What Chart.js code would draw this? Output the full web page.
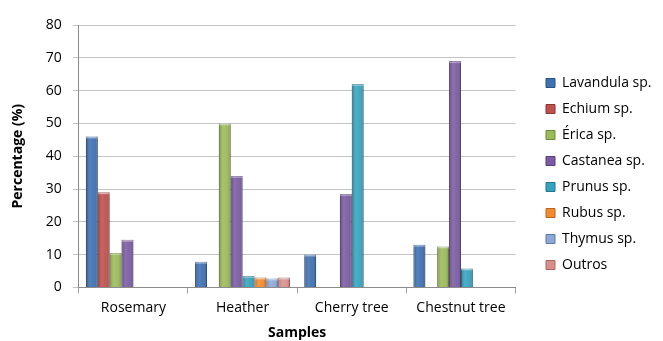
<!DOCTYPE html>
<html>
<head>
<meta charset="utf-8">
<script src="https://cdn.jsdelivr.net/npm/chart.js@4/dist/chart.umd.min.js"></script>
<style>
html,body{margin:0;padding:0;background:#fff;}
#wrap{width:663px;height:341px;position:relative;}
</style>
</head>
<body>
<div id="wrap"><canvas id="c" width="663" height="341"></canvas></div>
<script>
const categories = ["Rosemary", "Heather", "Cherry tree", "Chestnut tree"];
const seriesNames = ["Lavandula sp.", "Echium sp.", "Érica sp.", "Castanea sp.", "Prunus sp.", "Rubus sp.", "Thymus sp.", "Outros"];
const lavandula = [46, 7.8, 10, 13];
const echium    = [29, 0, 0, 0];
const erica     = [10.5, 50, 0, 12.5];
const castanea  = [14.5, 34, 28.5, 69];
const prunus    = [0, 3.5, 62, 5.8];
const rubus     = [0, 3, 0, 0];
const thymus    = [0, 2.7, 0, 0];
const outros    = [0, 3, 0, 0];
const yTicks = [0, 10, 20, 30, 40, 50, 60, 70, 80];

const seriesValues = [lavandula, echium, erica, castanea, prunus, rubus, thymus, outros];
const fills   = ["#3E70B3", "#C0504D", "#9BBB59", "#7B5BA3", "#35A3BF", "#F38A2E", "#8DA8D6", "#DA8E8C"];
const borders = ["#2A5183", "#8E3532", "#6E8A3A", "#573F7A", "#22778D", "#B8641C", "#5E7AA8", "#A86664"];

const shade = {
  id: 'shade',
  afterLayout(chart) {
    const lg = chart.legend;
    if (!lg) return;
    const dx = 534 - lg.left;
    lg.left += dx; lg.right += dx;
    const dy = -9;
    lg.top += dy; lg.bottom += dy;
  },
  afterDatasetsDraw(chart) {
    const ctx = chart.ctx;
    chart.data.datasets.forEach((ds, di) => {
      const meta = chart.getDatasetMeta(di);
      meta.data.forEach(bar => {
        const h = bar.base - bar.y;
        if (h < 1) return;
        const l = bar.x - bar.width / 2, w = bar.width;
        const g = ctx.createLinearGradient(l, 0, l + w, 0);
        g.addColorStop(0, 'rgba(0,0,0,0.22)');
        g.addColorStop(0.35, 'rgba(255,255,255,0.12)');
        g.addColorStop(0.65, 'rgba(255,255,255,0.05)');
        g.addColorStop(1, 'rgba(0,0,0,0.28)');
        ctx.save();
        ctx.fillStyle = g;
        ctx.fillRect(l, bar.y, w, h);
        ctx.fillStyle = 'rgba(255,255,255,0.35)';
        ctx.fillRect(l, bar.y, w, Math.min(2, h));
        ctx.restore();
      });
    });
  }
};

new Chart(document.getElementById('c'), {
  type: 'bar',
  data: {
    labels: categories,
    datasets: seriesNames.map((n, i) => ({
      label: n,
      data: seriesValues[i],
      backgroundColor: fills[i],
      borderColor: borders[i],
      borderWidth: 1,
      categoryPercentage: 0.87,
      barPercentage: 1.0
    }))
  },
  options: {
    responsive: false,
    animation: false,
    devicePixelRatio: 1,
    layout: { padding: { top: 25, left: 10, right: 20, bottom: 0 } },
    plugins: {
      tooltip: { enabled: false },
      legend: {
        position: 'right',
        align: 'center',
        labels: {
          boxWidth: 9,
          boxHeight: 9,
          padding: 12,
          color: '#000',
          font: { family: 'Open Sans', size: 14 },
          generateLabels(chart) {
            return chart.data.datasets.map((ds, i) => ({
              text: ds.label,
              fillStyle: ds.backgroundColor,
              strokeStyle: ds.borderColor,
              lineWidth: 1,
              datasetIndex: i,
              hidden: false
            }));
          }
        }
      }
    },
    scales: {
      x: {
        offset: true,
        grid: { display: true, drawOnChartArea: false, drawTicks: true, tickLength: 6, color: '#a0a0a0', offset: true },
        border: { display: true, color: '#8c8c8c', width: 1 },
        ticks: { color: '#000', font: { family: 'Open Sans', size: 14 }, padding: 6 },
        title: { display: true, text: 'Samples', color: '#000', font: { family: 'Open Sans', size: 14, weight: 'bold' }, padding: { top: 2, bottom: 0 } }
      },
      y: {
        min: 0,
        max: 80,
        afterBuildTicks(axis) { axis.ticks = yTicks.map(v => ({ value: v })); },
        grid: { color: '#c4c4c4', tickLength: 6, drawTicks: true },
        border: { display: true, color: '#8c8c8c', width: 1 },
        ticks: { color: '#000', font: { family: 'Open Sans', size: 14 }, padding: 11 },
        title: { display: true, text: 'Percentage (%)', color: '#000', font: { family: 'Open Sans', size: 14, weight: 'bold' }, padding: { top: 0, bottom: 8 } }
      }
    }
  },
  plugins: [shade]
});
</script>
</body>
</html>
